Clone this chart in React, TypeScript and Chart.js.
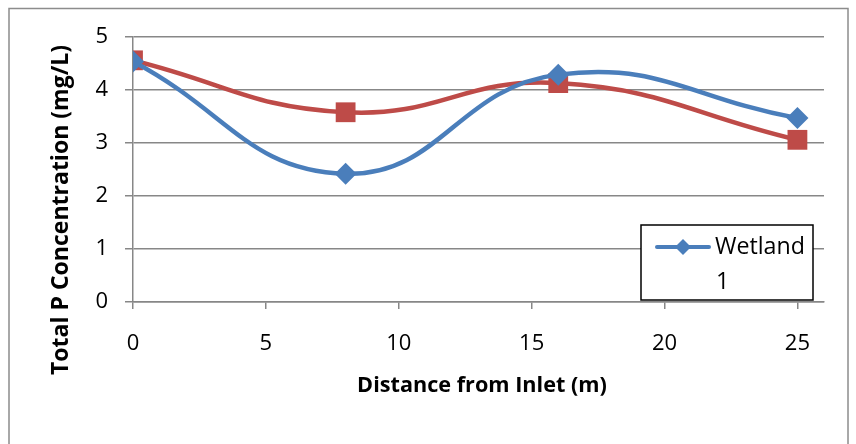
import React, { useEffect, useRef } from "react";
import { Chart, registerables } from "chart.js";

Chart.register(...registerables);

const distances = [0, 8, 16, 25];
const wetland1 = [4.54, 2.42, 4.29, 3.47];
const wetland2 = [4.56, 3.58, 4.13, 3.06];
const xTickValues = [0, 5, 10, 15, 20, 25];
const seriesNames = ["Wetland 1", "Wetland 2"];
const xTitle = "Distance from Inlet (m)";
const yTitle = "Total P Concentration (mg/L)";

const BLUE = "#4A7EBB";
const RED = "#BE4B48";
const GRID = "#878787";
const FONT = "'Open Sans', Lato, sans-serif";

function fitFont(ctx: any, text: string, weight: string, target: number) {
  ctx.font = `${weight} 20px ${FONT}`;
  const w = ctx.measureText(text).width;
  const size = (20 * target) / w;
  ctx.font = `${weight} ${size}px ${FONT}`;
}

const decorPlugin = {
  id: "decor",
  beforeDraw(chart: any) {
    const ctx = chart.ctx;
    ctx.save();
    ctx.fillStyle = "#ffffff";
    ctx.fillRect(0, 0, chart.width, chart.height);
    ctx.strokeStyle = "#8c8c8c";
    ctx.lineWidth = 1.5;
    ctx.strokeRect(9, 8.5, 839, 460);
    ctx.restore();
  },
  afterDraw(chart: any) {
    const ctx = chart.ctx;
    ctx.save();
    // axis titles
    ctx.fillStyle = "#000";
    ctx.textAlign = "center";
    ctx.textBaseline = "middle";
    fitFont(ctx, xTitle, "bold", 250);
    ctx.fillText(xTitle, 482, 386);
    fitFont(ctx, yTitle, "bold", 330);
    ctx.translate(61, 210);
    ctx.rotate(-Math.PI / 2);
    ctx.fillText(yTitle, 0, 0);
    ctx.restore();

    // legend box
    ctx.save();
    const lx = 641, ly = 225, lw = 172, lh = 75;
    ctx.fillStyle = "#fff";
    ctx.fillRect(lx, ly, lw, lh);
    ctx.strokeStyle = "#000";
    ctx.lineWidth = 1.5;
    ctx.strokeRect(lx, ly, lw, lh);
    ctx.strokeStyle = BLUE;
    ctx.lineWidth = 4;
    ctx.lineCap = "round";
    ctx.beginPath();
    ctx.moveTo(657, 247);
    ctx.lineTo(709, 247);
    ctx.stroke();
    ctx.fillStyle = BLUE;
    ctx.beginPath();
    ctx.moveTo(683, 239);
    ctx.lineTo(691, 247);
    ctx.lineTo(683, 255);
    ctx.lineTo(675, 247);
    ctx.closePath();
    ctx.fill();
    ctx.fillStyle = "#000";
    ctx.textAlign = "left";
    ctx.textBaseline = "middle";
    const words = seriesNames[0].split(" ");
    fitFont(ctx, words[0], "normal", 90);
    ctx.fillText(words[0], 715, 247);
    ctx.fillText(words[1], 716, 282);
    ctx.restore();
  },
};

export default function App() {
  const ref = useRef<HTMLCanvasElement>(null);
  useEffect(() => {
    document.body.style.margin = "0";
    const chart = new Chart(ref.current!, {
      type: "line",
      data: {
        datasets: [
          {
            label: seriesNames[0],
            data: distances.map((x, i) => ({ x, y: wetland1[i] })),
            borderColor: BLUE,
            backgroundColor: BLUE,
            borderWidth: 4.5,
            tension: 0.45,
            pointStyle: "rectRot",
            pointRadius: 11,
            pointBorderWidth: 0,
          },
          {
            label: seriesNames[1],
            data: distances.map((x, i) => ({ x, y: wetland2[i] })),
            borderColor: RED,
            backgroundColor: RED,
            borderWidth: 4.5,
            tension: 0.45,
            pointStyle: "rect",
            pointRadius: 14,
            pointBorderWidth: 0,
          },
        ],
      },
      options: {
        animation: false,
        responsive: false,
        layout: { padding: { left: 0, right: 32, top: 37, bottom: 0 } },
        plugins: { legend: { display: false }, tooltip: { enabled: false } },
        scales: {
          x: {
            type: "linear",
            min: 0,
            max: 26,
            afterBuildTicks: (s: any) => {
              s.ticks = xTickValues.map((v) => ({ value: v }));
            },
            afterFit: (s: any) => {
              s.height = 142;
            },
            ticks: {
              color: "#000",
              font: { family: FONT, size: 22 },
              padding: 22,
              maxRotation: 0,
            },
            grid: {
              drawOnChartArea: false,
              drawTicks: true,
              tickLength: 7,
              color: GRID,
              lineWidth: 1.5,
            },
            border: { color: GRID, width: 1.5 },
          },
          y: {
            min: 0,
            max: 5,
            afterFit: (s: any) => {
              s.width = 133;
            },
            ticks: {
              stepSize: 1,
              color: "#000",
              font: { family: FONT, size: 22 },
              padding: 17,
            },
            grid: {
              color: GRID,
              lineWidth: 1.5,
              tickLength: 8,
            },
            border: { color: GRID, width: 1.5 },
          },
        },
      },
      plugins: [decorPlugin],
    });
    return () => chart.destroy();
  }, []);
  return <canvas ref={ref} width={856} height={444} style={{ display: "block" }} />;
}
